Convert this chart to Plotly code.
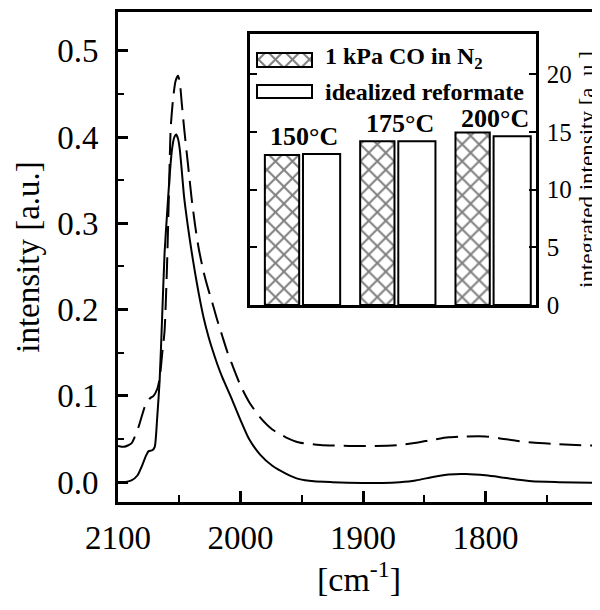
import plotly.graph_objects as go

# ---------------- data ----------------
solid_wn = [2100, 2095, 2089, 2084, 2081, 2077, 2075, 2072, 2070, 2068, 2066, 2064, 2062, 2060,
            2058, 2056, 2054, 2052.5, 2051, 2049.5, 2048, 2046, 2043, 2040, 2037, 2034, 2030, 2026,
            2023, 2019, 2015, 2007, 2000, 1993, 1984, 1974, 1963, 1952, 1940, 1925, 1900, 1884,
            1870, 1857, 1843, 1830, 1816, 1800, 1789, 1775, 1762, 1740, 1706]
solid_val = [0.0, 0.0, 0.002, 0.008, 0.017, 0.031, 0.036, 0.037, 0.041, 0.075, 0.118, 0.19, 0.265, 0.31,
             0.352, 0.385, 0.400, 0.403, 0.398, 0.385, 0.362, 0.330, 0.297, 0.268, 0.242, 0.218, 0.190, 0.168,
             0.154, 0.137, 0.122, 0.096, 0.072, 0.050, 0.032, 0.019, 0.010, 0.0035, 0.001, 0.0, -0.001, -0.001,
             0.0, 0.002, 0.006, 0.009, 0.0095, 0.008, 0.006, 0.003, 0.001, 0.0, -0.001]

dashed_wn = [2100, 2095, 2089, 2083, 2078, 2074, 2071, 2068, 2066, 2064, 2062, 2060, 2058.5, 2057,
             2055, 2053, 2051, 2049.5, 2048, 2046, 2043, 2040, 2037, 2034, 2030, 2026, 2023, 2019,
             2015, 2011, 2007, 2000, 1993, 1984, 1974, 1963, 1952, 1935, 1911, 1890, 1871, 1855,
             1844, 1830, 1816, 1800, 1789, 1775, 1762, 1740, 1706]
dashed_val = [0.042, 0.041, 0.045, 0.065, 0.088, 0.097, 0.100, 0.108, 0.120, 0.148, 0.175, 0.250, 0.330, 0.410,
              0.445, 0.465, 0.471, 0.463, 0.440, 0.410, 0.370, 0.330, 0.297, 0.270, 0.243, 0.222, 0.208, 0.188,
              0.170, 0.152, 0.137, 0.112, 0.093, 0.075, 0.061, 0.052, 0.046, 0.043, 0.042, 0.042, 0.043, 0.046,
              0.049, 0.052, 0.053, 0.053, 0.051, 0.048, 0.046, 0.044, 0.042]

temperatures = ["150°C", "175°C", "200°C"]
group_pos = [0, 1, 2]
co_in_n2 = [13.0, 14.2, 14.95]
idealized = [13.1, 14.2, 14.63]
legend_labels = ["1 kPa CO in N<sub>2</sub>", "idealized reformate"]

FONT = "Liberation Serif"

# ---------------- figure ----------------
# the page body adds an 8 px offset; page coords = figure coords + 8
OFF = 8
W, H = 600 - OFF, 610 - OFF
L, T = 118 - OFF, 12 - OFF
R = 0
B = H - (502 - OFF)
PW, PH = W - L - R, H - T - B


def px(xp):  # page pixel -> paper x
    return (xp - OFF - L) / PW


def py(yp):  # page pixel -> paper y
    return (H - B - (yp - OFF)) / PH


fig = go.Figure()

fig.add_trace(go.Scatter(x=solid_wn, y=solid_val, mode="lines",
                         line=dict(color="black", width=2, shape="spline", smoothing=0.6),
                         showlegend=False, xaxis="x", yaxis="y"))
fig.add_trace(go.Scatter(x=dashed_wn, y=dashed_val, mode="lines",
                         line=dict(color="black", width=2, dash="22px,9px", shape="spline", smoothing=0.6),
                         showlegend=False, xaxis="x", yaxis="y"))

hatch = dict(shape="x", size=12, solidity=0.3, fgcolor="black", bgcolor="white", fillmode="overlay")

# inset bars
fig.add_trace(go.Bar(x=group_pos, y=co_in_n2, width=0.36, offset=-0.395,
                     marker=dict(color="white", line=dict(color="black", width=2), pattern=hatch),
                     showlegend=False, xaxis="x2", yaxis="y2"))
fig.add_trace(go.Bar(x=group_pos, y=idealized, width=0.39, offset=0.005,
                     marker=dict(color="white", line=dict(color="black", width=2)),
                     showlegend=False, xaxis="x2", yaxis="y2"))

# legend swatches (helper axis over the inset)
sw_x0, sw_x1 = 0.0245, 0.2168
fig.add_trace(go.Bar(y=[0.904], x=[sw_x1 - sw_x0], base=[sw_x0], width=[0.052], orientation="h",
                     marker=dict(color="white", line=dict(color="black", width=2), pattern=hatch),
                     showlegend=False, xaxis="x3", yaxis="y3", hoverinfo="skip"))
fig.add_trace(go.Bar(y=[0.788], x=[sw_x1 - sw_x0], base=[sw_x0], width=[0.048], orientation="h",
                     marker=dict(color="white", line=dict(color="black", width=2)),
                     showlegend=False, xaxis="x3", yaxis="y3", hoverinfo="skip"))

annotations = []
for lab, yy in zip(legend_labels, [58, 92]):
    annotations.append(dict(x=px(323), y=py(yy), xref="paper", yref="paper", text=lab,
                            showarrow=False, xanchor="left", yanchor="middle",
                            font=dict(family=FONT, size=24, color="black", weight="bold")))
for t, g, b in zip(temperatures, group_pos, idealized):
    annotations.append(dict(x=g + 0.02, y=b + 0.08, xref="x2", yref="y2", text=t,
                            showarrow=False, xanchor="center", yanchor="bottom",
                            font=dict(family=FONT, size=26, color="black", weight="bold")))

inset_x = [px(250), px(536)]
inset_y = [py(305), py(34)]

fig.update_layout(
    width=W, height=H,
    margin=dict(l=L, r=R, t=T, b=B, pad=0),
    paper_bgcolor="white", plot_bgcolor="rgba(0,0,0,0)",
    font=dict(family=FONT, color="black"),
    barmode="overlay",
    annotations=annotations,
    xaxis=dict(domain=[0, 1], range=[2100, 2100 - PW / 1.225], showgrid=False, zeroline=False,
               showline=True, linecolor="black", linewidth=3, mirror=True,
               ticks="inside", ticklen=11, tickwidth=2.5, tickcolor="black",
               tickvals=[2100, 2000, 1900, 1800],
               minor=dict(ticks="inside", ticklen=7, tickwidth=2, tickcolor="black", dtick=50,
                          tick0=2100, showgrid=False),
               tickfont=dict(size=33, family=FONT), ticklabelstandoff=4,
               title=dict(text="[cm<sup>-1</sup>]", font=dict(size=34, family=FONT), standoff=6),
               automargin=False),
    yaxis=dict(domain=[0, 1], range=[-0.023, 0.545], showgrid=False, zeroline=False,
               showline=True, linecolor="black", linewidth=3, mirror=False,
               ticks="inside", ticklen=10, tickwidth=2.5, tickcolor="black",
               tickvals=[0.0, 0.1, 0.2, 0.3, 0.4, 0.5], ticktext=["0.0", "0.1", "0.2", "0.3", "0.4", "0.5"],
               minor=dict(ticks="inside", ticklen=6, tickwidth=2, tickcolor="black",
                          tickvals=[0.05, 0.15, 0.25, 0.35, 0.45], showgrid=False),
               tickfont=dict(size=33, family=FONT), ticklabelstandoff=10,
               title=dict(text="intensity [a.u.]", font=dict(size=33, family=FONT), standoff=8),
               automargin=False),
    xaxis2=dict(domain=inset_x, anchor="y2", range=[-0.551, 2.45], showgrid=False, zeroline=False,
                showline=True, linecolor="black", linewidth=2.5, mirror=True,
                ticks="", showticklabels=False, automargin=False),
    yaxis2=dict(domain=inset_y, anchor="x2", side="right", range=[0, 23.5], showgrid=False,
                zeroline=False, showline=True, linecolor="black", linewidth=2.5, mirror="ticks",
                ticks="inside", ticklen=7, tickwidth=2, tickcolor="black",
                tickvals=[0, 5, 10, 15, 20],
                tickfont=dict(size=25, family=FONT), ticklabelstandoff=3,
                title=dict(text="integrated intensity [a. u.]", font=dict(size=23, family=FONT), standoff=10),
                automargin=False),
    xaxis3=dict(domain=inset_x, anchor="y3", range=[0, 1], visible=False),
    yaxis3=dict(domain=inset_y, anchor="x3", range=[0, 1], visible=False),
)

fig.write_html("out.html")
